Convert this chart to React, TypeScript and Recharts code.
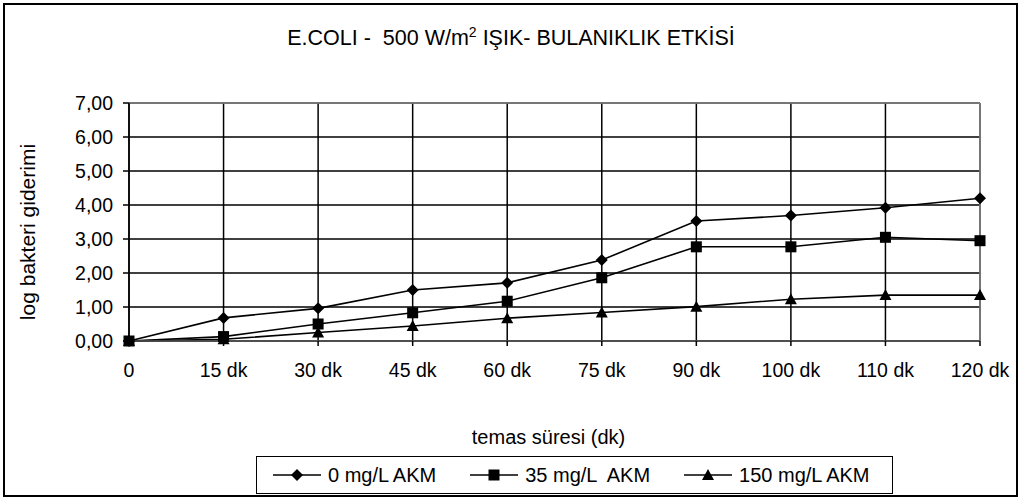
import React from "react";
import {
  LineChart,
  Line,
  XAxis,
  YAxis,
  CartesianGrid,
  ReferenceLine,
} from "recharts";

const categories = ["0", "15 dk", "30 dk", "45 dk", "60 dk", "75 dk", "90 dk", "100 dk", "110 dk", "120 dk"];
const akm0 = [0, 0.68, 0.96, 1.5, 1.71, 2.38, 3.53, 3.69, 3.92, 4.2];
const akm35 = [0, 0.13, 0.5, 0.83, 1.17, 1.86, 2.77, 2.77, 3.05, 2.95];
const akm150 = [0, 0.05, 0.25, 0.44, 0.67, 0.84, 1.01, 1.23, 1.35, 1.35];
const yTicks = [0, 1, 2, 3, 4, 5, 6, 7];
const seriesNames = ["0 mg/L AKM", "35 mg/L  AKM", "150 mg/L AKM"];

const data = categories.map((name, i) => ({
  name,
  a0: akm0[i],
  a35: akm35[i],
  a150: akm150[i],
}));

const FONT = "'Liberation Sans', Arial, sans-serif";

const Diamond = (props: any) => {
  const { cx, cy } = props;
  if (cx == null || cy == null) return null;
  const s = 6;
  return (
    <polygon
      points={`${cx},${cy - s} ${cx + s},${cy} ${cx},${cy + s} ${cx - s},${cy}`}
      fill="#000"
    />
  );
};

const Square = (props: any) => {
  const { cx, cy } = props;
  if (cx == null || cy == null) return null;
  return <rect x={cx - 5.5} y={cy - 5.5} width={11} height={11} fill="#000" />;
};

const Triangle = (props: any) => {
  const { cx, cy } = props;
  if (cx == null || cy == null) return null;
  return (
    <polygon
      points={`${cx},${cy - 6} ${cx + 6},${cy + 5} ${cx - 6},${cy + 5}`}
      fill="#000"
    />
  );
};

const markers = [Diamond, Square, Triangle];

const LegendBox = () => (
  <div
    style={{
      position: "absolute",
      left: 256,
      top: 456,
      width: 637,
      height: 38,
      border: "1px solid #000",
      boxSizing: "border-box",
      background: "#fff",
      display: "flex",
      alignItems: "center",
      fontFamily: FONT,
      fontSize: 20,
      whiteSpace: "pre",
    }}
  >
    {seriesNames.map((n, i) => {
      const M = markers[i];
      return (
        <div key={n} style={{ display: "flex", alignItems: "center", marginLeft: i === 0 ? 16 : 34 }}>
          <svg width={48} height={16}>
            <line x1={0} y1={8} x2={48} y2={8} stroke="#000" strokeWidth={1.5} />
            <M cx={24} cy={8} />
          </svg>
          <span style={{ marginLeft: 7 }}>{n}</span>
        </div>
      );
    })}
  </div>
);

const fmt = (v: number) => v.toFixed(2).replace(".", ",");

export default function App() {
  return (
    <div style={{ position: "absolute", left: 0, top: 0, width: 1025, height: 504, background: "#fff" }}>
      <div
        style={{
          position: "absolute",
          left: 3,
          top: 3,
          width: 1011,
          height: 490,
          border: "2px solid #000",
        }}
      />
      <div
        style={{
          position: "absolute",
          left: 0,
          width: 1022,
          top: 24,
          textAlign: "center",
          fontFamily: FONT,
          fontSize: 21.5,
          whiteSpace: "pre",
        }}
      >
        E.COLI -  500 W/m<sup style={{ fontSize: 14 }}>2</sup> IŞIK- BULANIKLIK ETKİSİ
      </div>
      <div
        style={{
          position: "absolute",
          left: 28,
          top: 232,
          transform: "translate(-50%, -50%) rotate(-90deg)",
          fontFamily: FONT,
          fontSize: 21,
          whiteSpace: "nowrap",
        }}
      >
        log bakteri giderimi
      </div>
      <div
        style={{
          position: "absolute",
          left: 123,
          width: 851,
          top: 426,
          textAlign: "center",
          fontFamily: FONT,
          fontSize: 20,
        }}
      >
        temas süresi (dk)
      </div>
      <LineChart
        width={1025}
        height={504}
        data={data}
        margin={{ top: 103, right: 45, bottom: 123, left: 69 }}
        style={{ position: "absolute", left: 0, top: 0 }}
      >
        <CartesianGrid stroke="#000" strokeWidth={1.5} />
        <XAxis
          dataKey="name"
          interval={0}
          height={40}
          tickSize={5}
          tickMargin={17}
          axisLine={{ stroke: "#555", strokeWidth: 1.5 }}
          tickLine={{ stroke: "#000", strokeWidth: 1.5 }}
          tick={{ fill: "#000", fontSize: 19.5, fontFamily: FONT }}
        />
        <YAxis
          domain={[0, 7]}
          ticks={yTicks}
          width={60}
          tickSize={6}
          tickMargin={10}
          tickFormatter={fmt}
          axisLine={{ stroke: "#000", strokeWidth: 1.5 }}
          tickLine={{ stroke: "#000", strokeWidth: 1.5 }}
          tick={{ fill: "#000", fontSize: 19.5, fontFamily: FONT }}
        />
        <ReferenceLine y={7} stroke="#888" strokeWidth={1.5} />
        <ReferenceLine x="120 dk" stroke="#888" strokeWidth={1.5} />
        <Line dataKey="a0" name={seriesNames[0]} stroke="#000" strokeWidth={1.6} dot={<Diamond />} isAnimationActive={false} />
        <Line dataKey="a35" name={seriesNames[1]} stroke="#000" strokeWidth={1.6} dot={<Square />} isAnimationActive={false} />
        <Line dataKey="a150" name={seriesNames[2]} stroke="#000" strokeWidth={1.6} dot={<Triangle />} isAnimationActive={false} />
      </LineChart>
      <LegendBox />
    </div>
  );
}
